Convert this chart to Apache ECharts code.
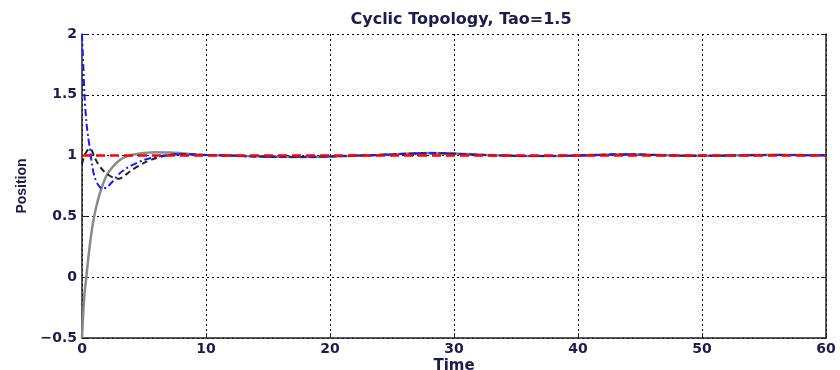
<!DOCTYPE html>
<html>
<head>
<meta charset="utf-8">
<script src="https://cdn.jsdelivr.net/npm/echarts@6/dist/echarts.min.js"></script>
<style>
  html, body { margin: 0; padding: 0; background: #ffffff; }
  #chart { width: 840px; height: 370px; }
</style>
</head>
<body>
<div id="chart"></div>
<script>
// Sample times shared by the three follower agents
const time = [0, 0.1, 0.2, 0.35, 0.5, 0.65, 0.8, 1.0, 1.3, 1.6,
  2.0, 2.5, 3.0, 3.5, 4.0, 5, 6, 7, 8, 9,
  10, 12, 14, 16, 18, 20, 22, 24, 26, 28,
  30, 32, 34, 36, 38, 40, 42, 44, 46, 48,
  50, 52, 54, 56, 58, 60];

// Agent starting at -0.5 (solid gray)
const agentGray = [-0.5, -0.3, -0.14, 0.0, 0.15, 0.28, 0.39, 0.51, 0.64, 0.74,
  0.84, 0.91, 0.96, 0.99, 1.005, 1.022, 1.028, 1.025, 1.02, 1.01,
  1.005, 1.0, 0.995, 0.99, 0.988, 0.992, 0.998, 1.005, 1.015, 1.022,
  1.018, 1.008, 1.0, 0.996, 0.996, 1.0, 1.008, 1.012, 1.006, 1.0,
  0.998, 1.0, 1.004, 1.006, 1.004, 1.003];

// Agent starting near 0.93 (black dashed)
const agentBlack = [0.93, 0.97, 1.0, 1.03, 1.05, 1.06, 1.04, 0.99, 0.93, 0.89,
  0.85, 0.82, 0.81, 0.84, 0.88, 0.94, 0.98, 1.005, 1.012, 1.01,
  1.005, 1.0, 0.993, 0.988, 0.988, 0.993, 1.0, 1.006, 1.014, 1.02,
  1.016, 1.007, 1.0, 0.996, 0.997, 1.001, 1.007, 1.01, 1.005, 1.0,
  0.998, 1.0, 1.003, 1.005, 1.004, 1.002];

// Agent starting at 2 (blue dash-dot)
const agentBlue = [2.0, 1.75, 1.5, 1.28, 1.15, 1.05, 0.93, 0.83, 0.76, 0.73,
  0.74, 0.79, 0.85, 0.89, 0.92, 0.965, 0.99, 1.005, 1.012, 1.01,
  1.005, 1.0, 0.993, 0.99, 0.99, 0.994, 1.0, 1.006, 1.015, 1.02,
  1.015, 1.006, 1.0, 0.996, 0.997, 1.0, 1.006, 1.01, 1.005, 1.0,
  0.998, 1.0, 1.003, 1.005, 1.004, 1.002];

// Leader reference (red dashed)
const leaderTime = [0, 60];
const leaderValue = [1, 1];

// Axis ticks
const xTicks = [0, 10, 20, 30, 40, 50, 60];
const yTicks = [-0.5, 0, 0.5, 1, 1.5, 2];

const pairs = (ts, vs) => ts.map((t, i) => [t, vs[i]]);

const textColor = '#1c1c4c';
const labelFont = { color: textColor, fontFamily: 'DejaVu Sans, Liberation Sans, sans-serif', fontWeight: 'bold', fontSize: 14 };
const verticalFont = { color: textColor, fontFamily: 'Liberation Sans, Arial, sans-serif', fontWeight: 'bold', fontSize: 14 };

const chart = echarts.init(document.getElementById('chart'), null, { renderer: 'canvas' });

chart.setOption({
  animation: false,
  backgroundColor: '#ffffff',
  title: {
    text: 'Cyclic Topology, Tao=1.5',
    left: 456, top: 7, textAlign: 'center',
    textStyle: Object.assign({}, labelFont, { fontSize: 16 })
  },
  grid: { left: 82, right: 14, top: 34, bottom: 32, containLabel: false, outerBoundsMode: 'none' },
  xAxis: [{
    type: 'value', min: xTicks[0], max: xTicks[xTicks.length - 1], interval: 10,
    name: 'Time', nameLocation: 'middle', nameGap: 21, nameMoveOverlap: false,
    nameTextStyle: Object.assign({}, labelFont, { fontSize: 15 }),
    axisLine: { show: true, onZero: false, lineStyle: { color: '#222', width: 1.5 } },
    axisTick: { show: true, inside: true, length: 5, lineStyle: { color: '#222' } },
    axisLabel: Object.assign({ margin: 4 }, labelFont),
    splitLine: { show: true, lineStyle: { color: '#000', type: [2, 3], width: 1 } }
  }],
  yAxis: [{
    type: 'value', min: yTicks[0], max: yTicks[yTicks.length - 1], interval: 0.5,
    name: 'Position', nameLocation: 'middle', nameGap: 53, nameRotate: 90, nameMoveOverlap: false,
    nameTextStyle: verticalFont,
    axisLine: { show: true, onZero: false, lineStyle: { color: '#222', width: 1.5 } },
    axisTick: { show: true, inside: true, length: 5, lineStyle: { color: '#222' } },
    axisLabel: Object.assign({
      margin: 5,
      formatter: v => String(v).replace('-', '\u2212')
    }, labelFont),
    splitLine: { show: true, lineStyle: { color: '#000', type: [2, 3], width: 1 } }
  }, {
    type: 'value', position: 'right', min: yTicks[0], max: yTicks[yTicks.length - 1], interval: 0.5,
    axisLine: { show: true, onZero: false, lineStyle: { color: '#222', width: 1.5 } },
    axisTick: { show: true, inside: true, length: 5, lineStyle: { color: '#222' } },
    axisLabel: { show: false },
    splitLine: { show: false }
  }],
  series: [
    {
      name: 'agent gray', type: 'line', data: pairs(time, agentGray),
      showSymbol: false, smooth: 0.3,
      lineStyle: { color: '#8a8a8a', width: 2.5 }
    },
    {
      name: 'agent black', type: 'line', data: pairs(time, agentBlack),
      showSymbol: false, smooth: 0.3,
      lineStyle: { color: '#222222', width: 2, type: [6, 4] }
    },
    {
      name: 'agent blue', type: 'line', data: pairs(time, agentBlue),
      showSymbol: false, smooth: 0.3,
      lineStyle: { color: '#1a1aff', width: 2, type: [7, 3, 2, 3] }
    },
    {
      name: 'leader', type: 'line', data: pairs(leaderTime, leaderValue),
      showSymbol: false,
      lineStyle: { color: '#ff0000', width: 2.5, type: [9, 5] }
    }
  ]
});
</script>
</body>
</html>
